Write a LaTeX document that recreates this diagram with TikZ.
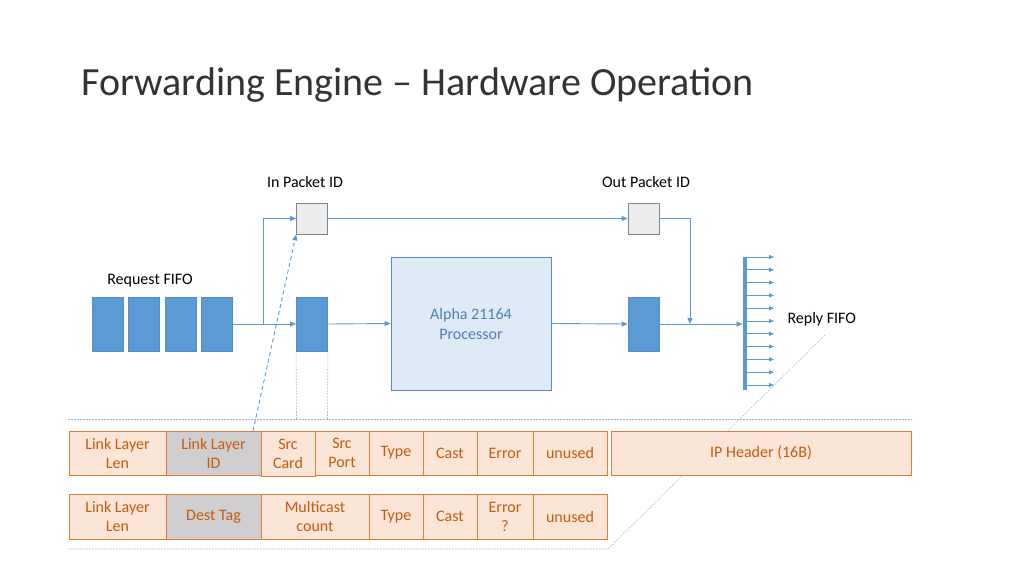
\documentclass[tikz,border=0pt]{standalone}
\usepackage{fontspec}
\setmainfont{Carlito}
\usetikzlibrary{arrows.meta}
\definecolor{ln}{HTML}{5B9BD5}
\definecolor{blk}{HTML}{5B9BD5}
\definecolor{proc}{HTML}{DEEBF7}
\definecolor{procb}{HTML}{5A8AC6}
\definecolor{fld}{HTML}{FBE5D6}
\definecolor{fldb}{HTML}{E07B39}
\definecolor{fldt}{HTML}{C55A11}
\definecolor{gr}{HTML}{D0CECE}
\definecolor{dl}{HTML}{9DB5D0}
\begin{document}
\begin{tikzpicture}[x=1pt,y=-1pt,
  conn/.style={draw=ln,line width=0.9pt,-{Triangle[length=6pt,width=5pt]}},
  blue/.style={draw=procb,fill=blk,line width=0.8pt},
  small/.style={draw=gray!80!ln,fill=gray!15,line width=0.8pt},
  f/.style={draw=fldb,fill=fld,line width=0.9pt,text=fldt,font=\fontsize{16}{19}\selectfont,align=center,inner sep=0pt},
  g/.style={f,fill=gr},
  lbl/.style={font=\fontsize{16}{19}\selectfont},
  dotl/.style={draw=dl,line width=0.6pt,dash pattern=on 1.5pt off 1.5pt}]
\useasboundingbox (0,0) rectangle (1024,576);
\node[anchor=west,font=\fontsize{40}{48}\selectfont,text=black!80] (title) at (78,85) {Forwarding Engine – Hardware Operation};
\node[lbl] (inl) at (305,182) {In Packet ID};
\node[lbl] (outl) at (646,182) {Out Packet ID};
\node[lbl] (reql) at (150,281) {Request FIFO};
\node[lbl,anchor=west] (repl) at (784,319) {Reply FIFO};
% request fifo
\foreach \i/\x in {1/92,2/128,3/165,4/201}{
  \path[blue] (\x,297) rectangle ++(31,54);
  \coordinate (r\i) at (\x+15.5,324);}
\node[blue,minimum width=31pt,minimum height=54pt,inner sep=0pt] (m) at (312,324) {};
\node[blue,minimum width=31pt,minimum height=54pt,inner sep=0pt] (o) at (643.5,324) {};
\node[small,minimum width=31pt,minimum height=31pt,inner sep=0pt] (ip) at (312,218.5) {};
\node[small,minimum width=31pt,minimum height=31pt,inner sep=0pt] (op) at (643.5,218.5) {};
\node[draw=procb,fill=proc,line width=0.8pt,minimum width=160pt,minimum height=133pt,text=procb!90!black,align=center,font=\fontsize{16}{20}\selectfont] (cpu) at (471,323.5) {Alpha 21164\\Processor};
\fill[blk] (742.5,257) rectangle (746.5,390);
\coordinate (bar) at (742.5,324);
\coordinate (fifoR) at (233,324);
\coordinate (br) at (263,324);
\coordinate (bo) at (690,324);
% connectors
\draw[conn] (fifoR) -- (m.west);
\draw[conn] (br) |- (ip.west);
\draw[conn] (m.east) -- (cpu.west);
\draw[conn] (cpu.east) -- (o.west);
\draw[conn] (ip.east) -- (op.west);
\draw[conn] (op.east) -| (bo);
\draw[conn] (o.east) -- (bar);
\foreach \k in {0,...,10}{
  \coordinate (a\k) at (746.5,257+\k*12.8);
  \coordinate (b\k) at (774,257+\k*12.8);
  \draw[draw=ln,line width=0.8pt,-{Triangle[length=5pt,width=4pt]}] (a\k) -- (b\k);}
% dotted guides
\coordinate (h1a) at (68,419); \coordinate (h1b) at (912,419);
\coordinate (h2a) at (68,549); \coordinate (h2b) at (608,549);
\coordinate (rf) at (826,334);
\draw[dotl] (h1a) -- (h1b);
\draw[dotl] (h2a) -- (h2b) -- (rf);
\draw[dotl] (m.south west) -- (296.5,419);
\draw[dotl] (m.south east) -- (327.5,419);
% row 1
\node[f,minimum width=97pt,minimum height=44pt] (a1) at (117.5,453) {Link Layer\\Len};
\node[g,minimum width=95pt,minimum height=44pt] (a2) at (213.5,453) {Link Layer\\ID};
\node[f,minimum width=54pt,minimum height=45pt] (a3) at (288,453.5) {Src\\Card};
\node[f,minimum width=54pt,minimum height=44pt] (a4) at (342,453) {Src\\Port};
\node[f,minimum width=54pt,minimum height=44pt] (a5) at (396,453) {Type};
\node[f,minimum width=54pt,minimum height=44pt] (a6) at (450,453) {Cast};
\node[f,minimum width=56pt,minimum height=44pt] (a7) at (505,453) {Error};
\node[f,minimum width=74pt,minimum height=44pt] (a8) at (570,453) {unused};
\node[f,minimum width=300pt,minimum height=44pt] (a9) at (761,453) {IP Header (16B)};
% row 2
\node[f,minimum width=97pt,minimum height=45pt] (c1) at (117.5,516.5) {Link Layer\\Len};
\node[g,minimum width=95pt,minimum height=45pt] (c2) at (213.5,516.5) {Dest Tag};
\node[f,minimum width=108pt,minimum height=45pt] (c3) at (315,516.5) {Multicast\\count};
\node[f,minimum width=54pt,minimum height=45pt] (c5) at (396,516.5) {Type};
\node[f,minimum width=54pt,minimum height=45pt] (c6) at (450,516.5) {Cast};
\node[f,minimum width=56pt,minimum height=45pt] (c7) at (505,516.5) {Error\\?};
\node[f,minimum width=74pt,minimum height=45pt] (c8) at (570,516.5) {unused};
% dashed arrow
\coordinate (ds) at (253,431);
\draw[draw=ln,line width=0.9pt,dash pattern=on 4pt off 3pt,-{Triangle[length=6pt,width=5pt]}] (ds) -- (ip.south west);
\end{tikzpicture}
\end{document}
